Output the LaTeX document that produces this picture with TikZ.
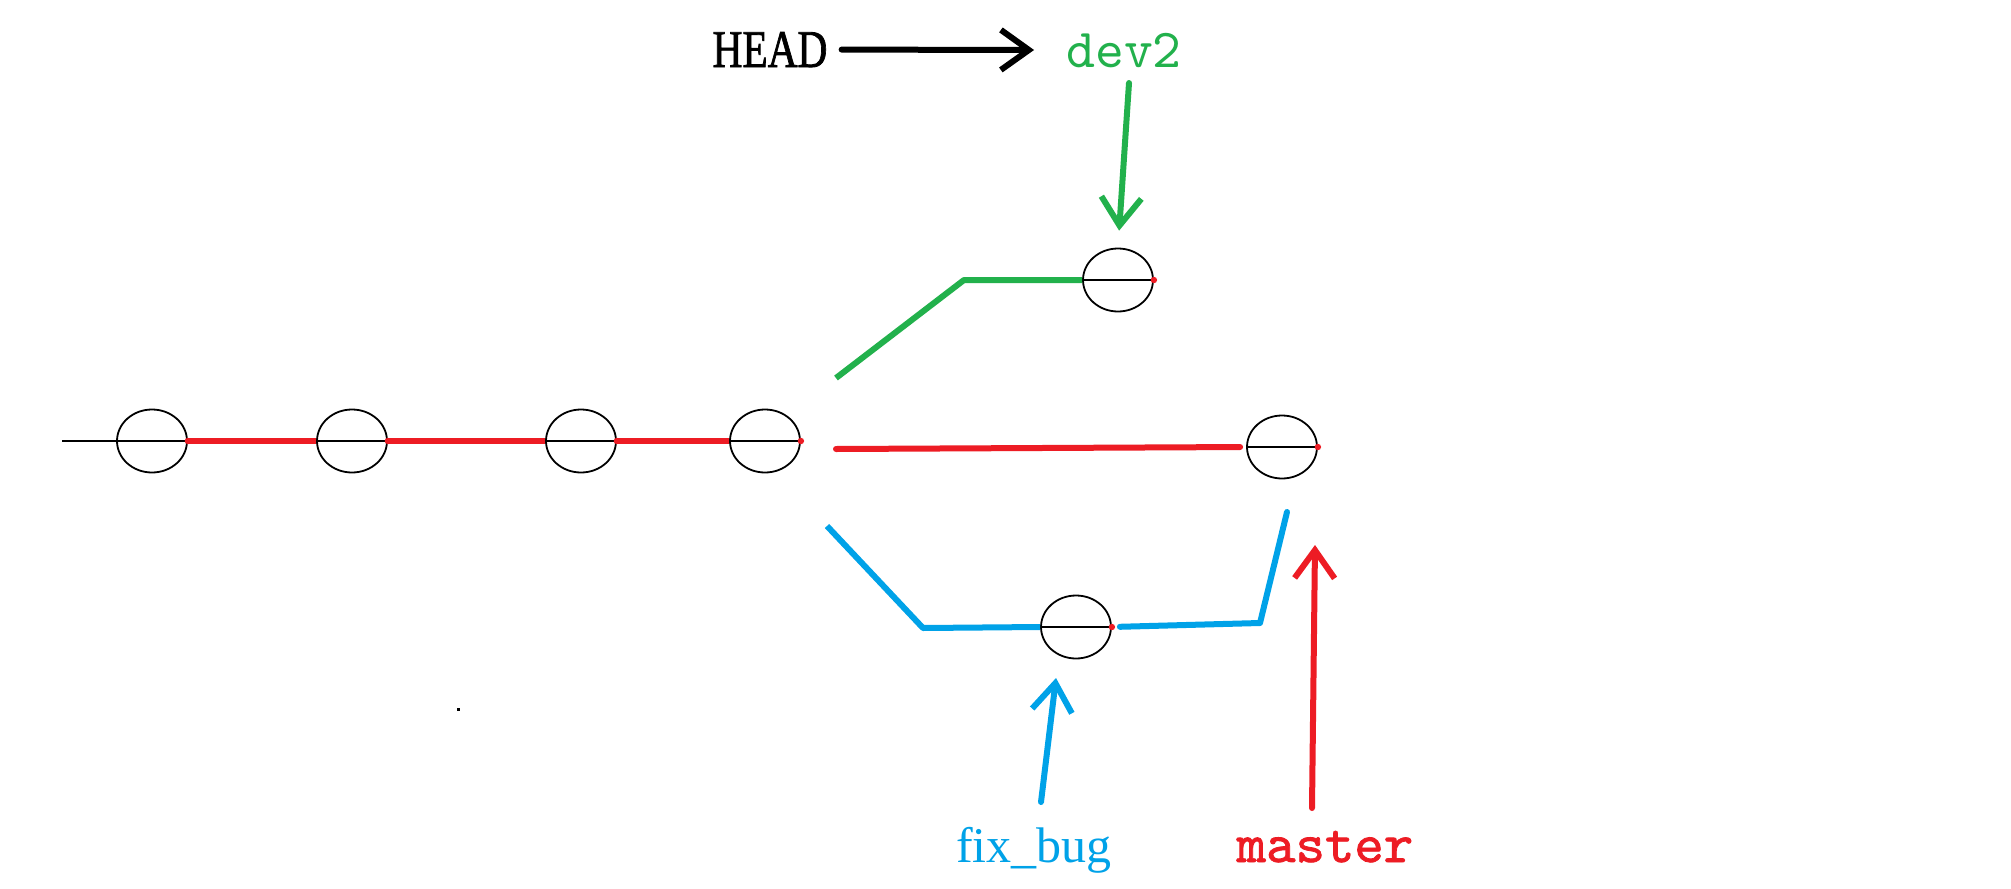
\documentclass[tikz,border=0pt]{standalone}
\usepackage{fontspec}
\setmainfont{Liberation Serif}
\newfontfamily\headfont[FakeBold=1.6]{Liberation Serif}
\newfontfamily\monoreg{lmmono10-regular.otf}
\newfontfamily\monobold[FakeBold=1.4]{lmmono10-regular.otf}
\usetikzlibrary{arrows.meta,shapes.geometric}
\definecolor{pred}{HTML}{ED1C24}
\definecolor{pgreen}{HTML}{22B14C}
\definecolor{pblue}{HTML}{00A2E8}
\tikzset{
  commit/.style={draw=black,line width=1.8pt,ellipse,minimum width=70pt,minimum height=63pt,inner sep=0pt},
  axisline/.style={black,line width=1.8pt},
  branch/.style={line width=6pt,line cap=round,line join=round},
  pointer/.style={line width=6pt,line cap=round,-{Straight Barb[length=28pt,width=40pt,line width=6pt]}},
  label/.style={inner sep=0pt,anchor=base}
}
\begin{document}
\begin{tikzpicture}[x=1pt,y=-1pt]
\useasboundingbox[fill=white] (0,0) rectangle (2011,889);
% commits
\node[commit] (c1) at (152,441) {};
\node[commit] (c2) at (352,441) {};
\node[commit] (c3) at (581,441) {};
\node[commit] (c4) at (765,441) {};
\node[commit] (dev) at (1118,280) {};
\node[commit] (fix) at (1076,627) {};
\node[commit] (mst) at (1282,447) {};
% inner lines
\foreach \n in {c1,c2,c3,c4,dev,fix,mst}{
  \draw[axisline] (\n.west) -- (\n.east);
  \fill[pred] (\n.east) circle (3.2pt);
}
\coordinate (start) at (62,441);
\draw[axisline] (start) -- (c1.west);
% master line
\draw[branch,pred,line cap=butt] (c1.east) -- (c2.west);
\draw[branch,pred,line cap=butt] (c2.east) -- (c3.west);
\draw[branch,pred,line cap=butt] (c3.east) -- (c4.west);
\coordinate (r0) at (836,449);
\draw[branch,pred,shorten >=6pt] (r0) -- (mst.west);
% dev2 branch
\coordinate (g0) at (836,378);
\coordinate (g1) at (964,280);
\draw[branch,pgreen,line cap=butt] (g0) -- (g1) -- (dev.west);
% fix_bug branch
\coordinate (b0) at (827,526);
\coordinate (b1) at (923,628);
\draw[branch,pblue,line cap=butt] (b0) -- (b1) -- (fix.west);
\coordinate (b2) at (1260,623);
\coordinate (b3) at (1287,512);
\draw[branch,pblue,shorten <=8pt] (fix.east) -- (b2) -- (b3);
% labels
\node[label,font=\headfont\fontsize{53}{56}\selectfont] (head) at (770,67) {\scalebox{0.78}[1]{HEAD}};
\node[label,pgreen,font=\monoreg\fontsize{55}{58}\selectfont] (dev2) at (1124,67) {dev2};
\node[label,pblue,font=\fontsize{50}{54}\selectfont] (fixbug) at (1034,862) {fix\_bug};
\node[label,pred,font=\monobold\fontsize{56}{60}\selectfont] (master) at (1325,862) {master};
% pointers
\draw[pointer,black,shorten <=14pt,shorten >=32pt] (head.east) -- (dev2.west);
\coordinate (gp) at (1129,83);
\draw[pointer,pgreen,shorten >=17pt] (gp) -- (dev.north);
\coordinate (bp) at (1041,802);
\coordinate (bt) at (1056,678);
\draw[pointer,pblue] (bp) -- (bt);
\coordinate (rp) at (1312,808);
\coordinate (rt) at (1315,545);
\draw[pointer,pred] (rp) -- (rt);
% speck
\fill[black] (457,708) rectangle (460,711);
\end{tikzpicture}
\end{document}
